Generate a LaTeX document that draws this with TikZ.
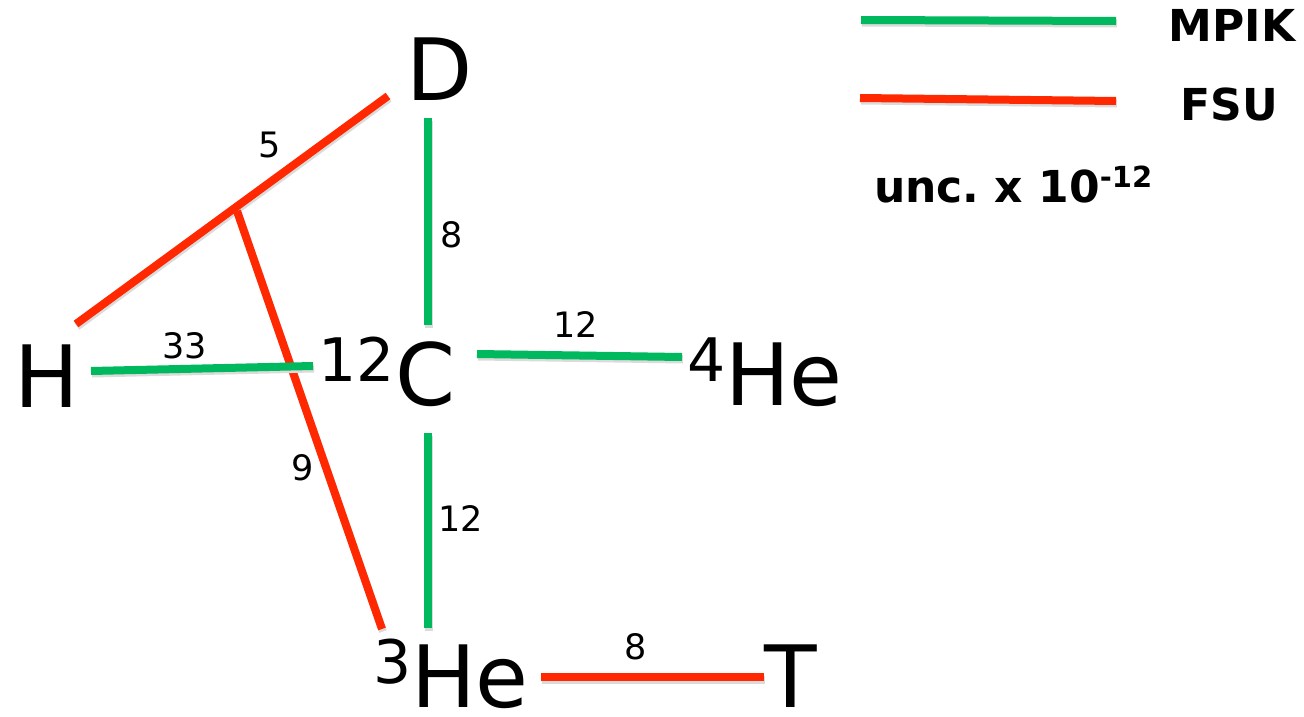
\documentclass[tikz,border=0pt]{standalone}
\usepackage{fontspec}
\setmainfont{DejaVu Sans}
\usetikzlibrary{calc}
\definecolor{mgreen}{RGB}{0,184,94}
\definecolor{fred}{RGB}{255,40,0}
\newcommand\isosup[1]{\raisebox{24pt}{\fontsize{60}{60}\selectfont #1}}
\tikzset{
  iso/.style={font=\fontsize{86}{90}\selectfont, inner sep=0pt, anchor=base},
  elab/.style={font=\fontsize{35}{36}\selectfont, inner sep=0pt},
  legtext/.style={font=\fontsize{44}{46}\selectfont\bfseries, inner sep=0pt, anchor=base},
  shadowed/.style={preaction={draw=black!14, line width=8pt, transform canvas={shift={(1pt,-2.5pt)}}}},
  mpikline/.style={shadowed, draw=mgreen, line width=8pt},
  fsuline/.style={shadowed, draw=fred, line width=8pt},
}
\begin{document}
\begin{tikzpicture}[x=1pt,y=-1pt]
\useasboundingbox[fill=white] (0,0) rectangle (1304,717);
% isotope nodes
\node[iso] (D) at (440,100) {D};
\node[iso] (H) at (47,407) {H};
\node[iso] (C) at (387,405) {\isosup{12}C};
\node[iso] (He4) at (765,405) {\isosup{4}He};
\node[iso] (He3) at (451,707) {\isosup{3}He};
\node[iso] (T) at (791,707) {T};
% junction on D--H line
\coordinate (J) at (237,211);
% connectors
\draw[fsuline] ($(D.base)+(-52,-4)$) -- ($(H.base)+(29,-83)$);
\draw[fsuline] (J) -- ($(He3.base)+(-69,-78)$);
\draw[mpikline] ($(D.base)+(-12,18)$) -- ($(C.base)+(41,-80)$);
\draw[mpikline] ($(H.base)+(44,-36)$) -- ($(C.base)+(-74,-39)$);
\draw[mpikline] ($(C.base)+(90,-51)$) -- ($(He4.base)+(-83,-48)$);
\draw[mpikline] ($(C.base)+(41,28)$) -- ($(He3.base)+(-23,-79)$);
\draw[fsuline] ($(He3.base)+(90,-30)$) -- ($(T.base)+(-27,-30)$);
% edge labels
\node[elab] (l5) at (270,145) {5};
\node[elab] (l8a) at (452,235) {8};
\node[elab] (l33) at (185,346) {33};
\node[elab] (l12a) at (576,325) {12};
\node[elab] (l9) at (303,468) {9};
\node[elab] (l12b) at (461,519) {12};
\node[elab] (l8b) at (636,647) {8};
% legend
\coordinate (g1) at (861,20);
\coordinate (g2) at (1116,21);
\coordinate (r1) at (860,98);
\coordinate (r2) at (1116,101);
\draw[mpikline] (g1) -- (g2);
\draw[fsuline] (r1) -- (r2);
\node[legtext] (mpik) at (1232,42) {MPIK};
\node[legtext] (fsu) at (1229,121) {FSU};
\node[legtext, anchor=base west] (unc) at (874,202) {unc.\ x 10\raisebox{15pt}{\fontsize{29}{30}\selectfont\bfseries -12}};
\end{tikzpicture}
\end{document}
